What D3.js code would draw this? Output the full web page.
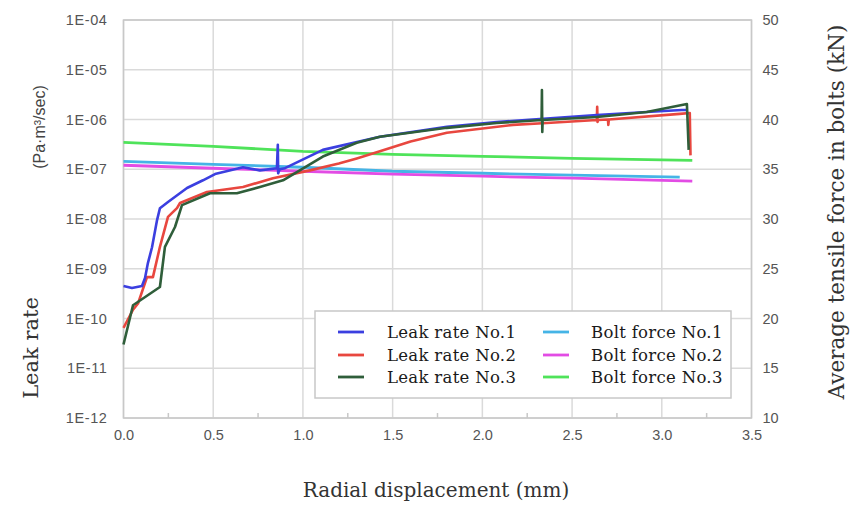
<!DOCTYPE html>
<html><head><meta charset="utf-8">
<script src="https://cdn.jsdelivr.net/npm/d3@7"></script>
<style>body{margin:0;background:#fff}svg{display:block}</style>
</head><body><svg id="c" width="853" height="506"></svg>
<script>
// ---- data ----
const leakTicks = [1e-12,1e-11,1e-10,1e-9,1e-8,1e-7,1e-6,1e-5,1e-4];
const forceTicks = [10,15,20,25,30,35,40,45,50];
const xTicks = [0,0.5,1.0,1.5,2.0,2.5,3.0,3.5];

const leak1X = [0,0.047,0.103,0.12,0.136,0.159,0.187,0.203,0.248,0.354,0.443,0.51,0.666,0.76,0.855,0.86,0.862,0.87,0.9,1.111,1.429,1.802,2.08,2.32,2.638,2.916,3.111,3.14];
const leak1Y = [4.5e-10,4.1e-10,4.5e-10,6.5e-10,1.3e-9,2.7e-9,9.5e-9,1.65e-8,2.2e-8,4.2e-8,6.0e-8,8.0e-8,1.1e-7,9.5e-8,1.05e-7,3.1e-7,8.3e-8,1.0e-7,1.05e-7,2.45e-7,4.5e-7,7.1e-7,8.9e-7,1.02e-6,1.23e-6,1.41e-6,1.55e-6,1.55e-6];

const leak2X = [0,0.053,0.081,0.131,0.164,0.203,0.248,0.298,0.315,0.465,0.666,0.833,1.039,1.20,1.30,1.429,1.60,1.802,2.17,2.359,2.638,2.64,2.642,2.645,2.70,2.702,2.705,3.10,3.156,3.16];
const leak2Y = [6.5e-11,1.5e-10,2.0e-10,6.8e-10,6.8e-10,2.75e-9,1.1e-8,1.65e-8,2.1e-8,3.5e-8,4.4e-8,6.6e-8,9.5e-8,1.3e-7,1.65e-7,2.3e-7,3.6e-7,5.4e-7,7.8e-7,8.5e-7,9.8e-7,1.8e-6,8.9e-7,9.8e-7,1.0e-6,7.8e-7,1.0e-6,1.3e-6,1.35e-6,1.9e-7];

const leak3X = [0,0.053,0.092,0.203,0.231,0.287,0.326,0.482,0.632,0.76,0.889,1.111,1.30,1.429,1.802,2.08,2.33,2.332,2.334,2.336,2.638,2.916,3.14,3.15];
const leak3Y = [3.0e-11,1.85e-10,2.3e-10,4.3e-10,2.75e-9,6.9e-9,1.9e-8,3.3e-8,3.3e-8,4.4e-8,6.0e-8,1.8e-7,3.4e-7,4.5e-7,6.8e-7,8.5e-7,9.8e-7,3.9e-6,5.6e-7,9.8e-7,1.12e-6,1.41e-6,2.05e-6,2.45e-7];

const boltX1 = [0,0.5,1.0,1.5,2.0,2.5,3.1];
const bolt1 = [35.8,35.5,35.2,34.8,34.6,34.4,34.2];
const boltX2 = [0,0.5,1.0,1.5,2.0,2.5,3.17];
const bolt2 = [35.4,35.1,34.8,34.5,34.3,34.1,33.8];
const boltX3 = [0,0.5,1.0,1.5,2.0,2.5,3.17];
const bolt3 = [37.7,37.3,36.8,36.5,36.3,36.1,35.9];

const legendLabels = ["Leak rate No.1","Leak rate No.2","Leak rate No.3","Bolt force No.1","Bolt force No.2","Bolt force No.3"];
const colors = ["#3b3fe0","#e8473f","#2f5e3a","#45b4e6","#e24ce4","#4fe35a"];

// ---- chart ----
const svg = d3.select("#c");
const L = 123.5, R = 751.5, T = 20, B = 418;
const x = d3.scaleLinear().domain([0,3.5]).range([L,R]);
const yL = d3.scaleLog().domain([1e-12,1e-4]).range([B,T]);
const yR = d3.scaleLinear().domain([10,50]).range([B,T]);

const grid = svg.append("g");
grid.selectAll("line.h").data(leakTicks).join("line")
  .attr("x1",L).attr("x2",R).attr("y1",d=>yL(d)).attr("y2",d=>yL(d))
  .attr("stroke","#dadada").attr("stroke-width",1.5);
grid.selectAll("line.v").data(xTicks).join("line")
  .attr("y1",T).attr("y2",B).attr("x1",d=>x(d)).attr("x2",d=>x(d))
  .attr("stroke","#dadada").attr("stroke-width",1.5);
svg.append("rect").attr("x",L).attr("y",T).attr("width",R-L).attr("height",B-T)
  .attr("fill","none").attr("stroke","#c8c8c8").attr("stroke-width",1.5);

// axes
const fmtE = d => { const e = Math.round(Math.log10(d)); return "1E-" + String(-e).padStart(2,"0"); };
const axL = svg.append("g").attr("transform",`translate(${L},0)`)
  .call(d3.axisLeft(yL).tickValues(leakTicks).tickFormat(fmtE).tickSize(0).tickPadding(16));
const axR = svg.append("g").attr("transform",`translate(${R},0)`)
  .call(d3.axisRight(yR).tickValues(forceTicks).tickSize(0).tickPadding(11));
const axB = svg.append("g").attr("transform",`translate(0,${B})`)
  .call(d3.axisBottom(x).tickValues(xTicks).tickFormat(d3.format(".1f")).tickSize(0).tickPadding(12));
[axL,axR,axB].forEach(a=>{
  a.select(".domain").remove();
  a.selectAll("text").attr("font-family","Liberation Sans, Arial, sans-serif").attr("font-size",14.5).attr("fill","#555");
});
axL.selectAll("text").attr("letter-spacing","0.6px");
// minor ticks on bottom
svg.append("g").selectAll("line").data(xTicks.slice(0,-1)).join("line")
  .attr("x1",d=>x(d+0.25)).attr("x2",d=>x(d+0.25)).attr("y1",B).attr("y2",B-5)
  .attr("stroke","#c8c8c8").attr("stroke-width",1.5);

// series
const lineL = d3.line().x(d=>x(d[0])).y(d=>yL(d[1]));
const lineR = d3.line().x(d=>x(d[0])).y(d=>yR(d[1]));
const bolts = [[boltX1,bolt1],[boltX2,bolt2],[boltX3,bolt3]];
bolts.forEach((b,i)=>{
  svg.append("path").datum(b[0].map((v,j)=>[v,b[1][j]])).attr("d",lineR)
    .attr("fill","none").attr("stroke",colors[3+i]).attr("stroke-width",2.8);
});
const leaks = [[leak1X,leak1Y],[leak2X,leak2Y],[leak3X,leak3Y]];
[1,0,2].forEach(i=>{
  const s = leaks[i];
  svg.append("path").datum(s[0].map((v,j)=>[v,s[1][j]])).attr("d",lineL)
    .attr("fill","none").attr("stroke",colors[i]).attr("stroke-width",2.6).attr("stroke-linejoin","round");
});

// legend
const lg = svg.append("g");
lg.append("rect").attr("x",315).attr("y",311).attr("width",416).attr("height",87)
  .attr("fill","#fff").attr("stroke","#c8c8c8").attr("stroke-width",1.5);
const rowsY = [332,355,377];
legendLabels.forEach((t,i)=>{
  const col = Math.floor(i/3), r = i%3;
  const lx = col ? 543 : 338, tx = col ? 591 : 387;
  lg.append("line").attr("x1",lx).attr("x2",lx+26).attr("y1",rowsY[r]).attr("y2",rowsY[r])
    .attr("stroke",colors[i]).attr("stroke-width",2.8);
  lg.append("text").attr("x",tx).attr("y",rowsY[r]+6).text(t)
    .attr("font-family","DejaVu Serif, serif").attr("font-size",16.5).attr("fill","#1a1a1a")
    .attr("letter-spacing","0.3px");
});

// axis titles
svg.append("text").attr("x",436).attr("y",497).attr("text-anchor","middle")
  .attr("font-family","DejaVu Serif, serif").attr("font-size",20).attr("fill","#333")
  .text("Radial displacement (mm)");
svg.append("text").attr("transform","translate(38,348) rotate(-90)").attr("text-anchor","middle")
  .attr("font-family","DejaVu Serif, serif").attr("font-size",21).attr("fill","#333").text("Leak rate");
svg.append("text").attr("transform","translate(45,127) rotate(-90)").attr("text-anchor","middle")
  .attr("font-family","Liberation Sans, Arial, sans-serif").attr("font-size",16).attr("fill","#444")
  .text("(Pa·m³/sec)");
svg.append("text").attr("transform","translate(844,212) rotate(-90)").attr("text-anchor","middle")
  .attr("font-family","DejaVu Serif, serif").attr("font-size",21.5).attr("fill","#333")
  .text("Average tensile force in bolts (kN)");
</script></body></html>
